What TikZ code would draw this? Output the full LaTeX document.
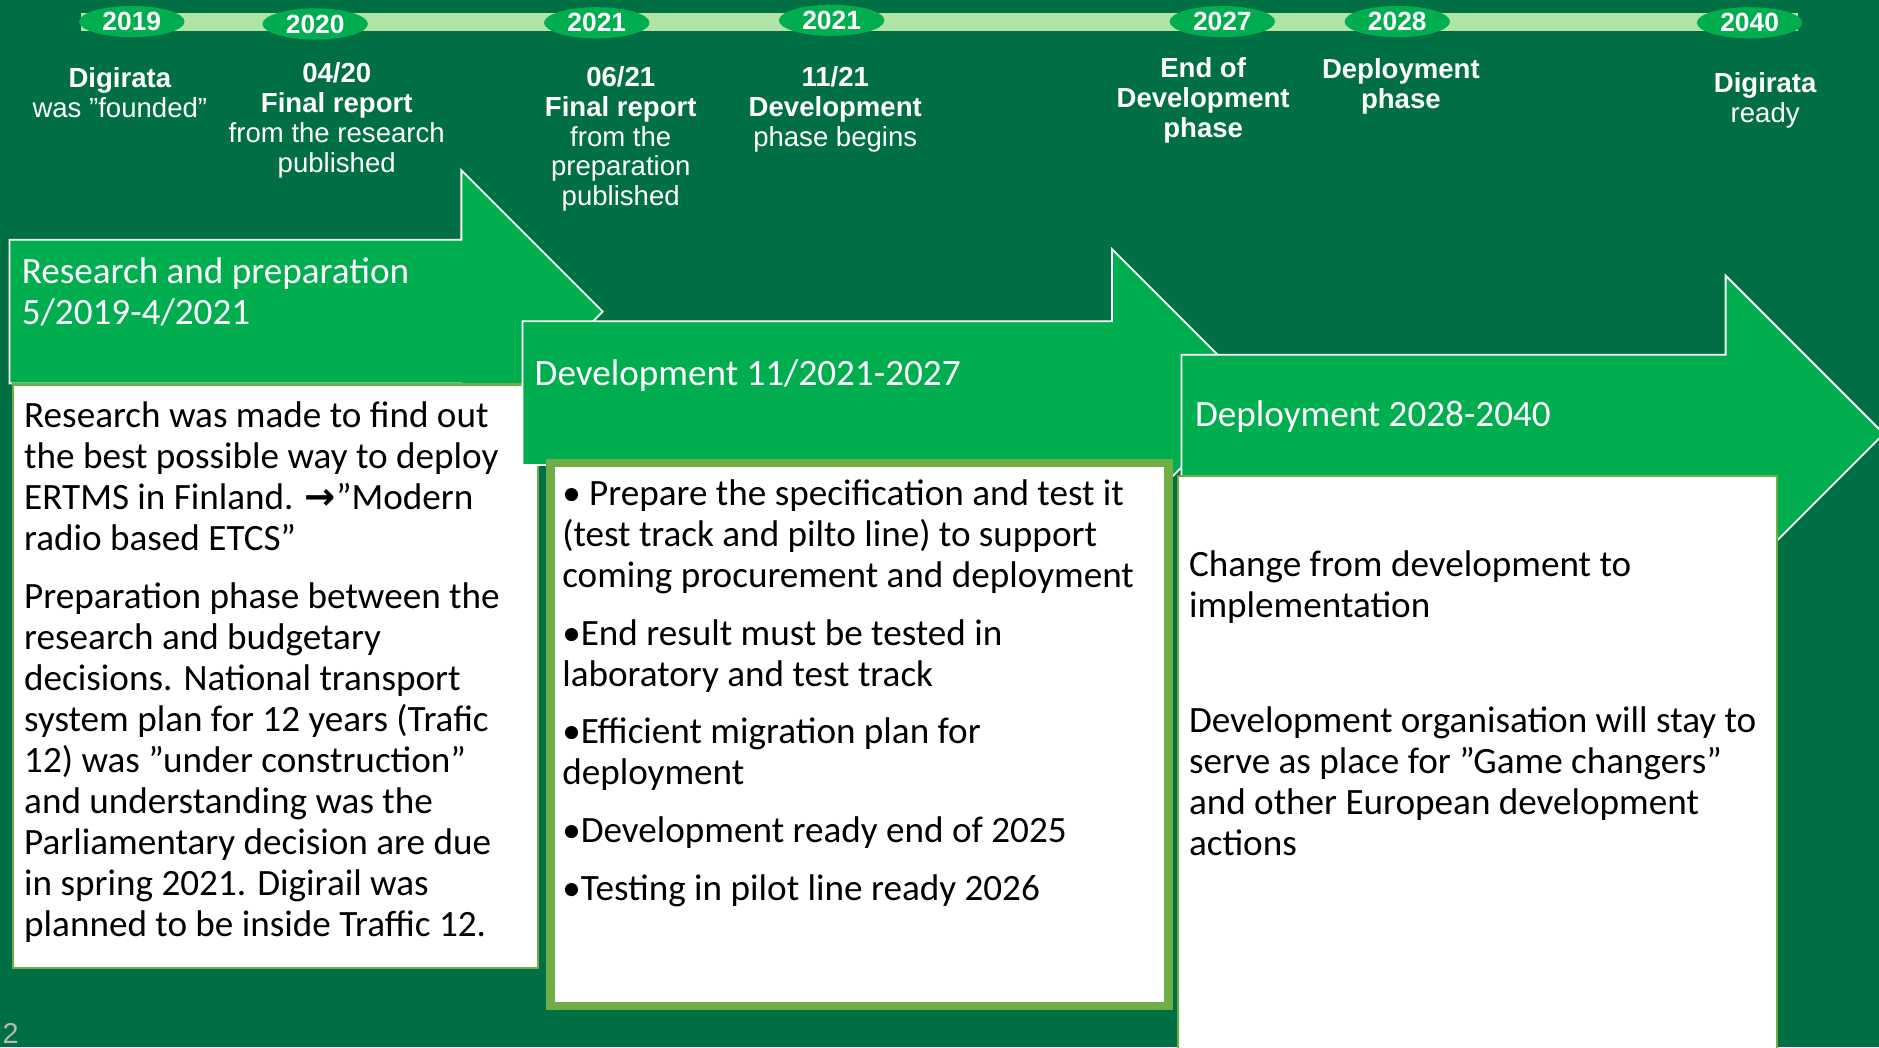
\documentclass[tikz,border=0pt]{standalone}
\usepackage{fontspec}
\usepackage{tikz}
\setmainfont{Carlito}
\newfontfamily\narrowfont{Liberation Sans}
\newfontfamily\dejavu{DejaVu Sans}
\usetikzlibrary{shapes.geometric,positioning}

\definecolor{bgdark}{RGB}{0,112,68}
\definecolor{arrowgreen}{RGB}{0,174,80}
\definecolor{barlight}{RGB}{176,228,166}
\definecolor{boxolive}{RGB}{112,173,71}
\definecolor{pagegray}{RGB}{185,185,185}

\tikzset{
  yearmark/.style={ellipse, fill=arrowgreen, minimum width=88pt, minimum height=26pt, inner sep=0pt,
    text=white, font=\narrowfont\bfseries\fontsize{22}{22}\selectfont},
  eventlabel/.style={anchor=north, align=center, inner sep=0pt, text=white,
    font=\narrowfont\fontsize{23}{25}\selectfont},
  phasearrow/.style={fill=arrowgreen, draw=white, line width=1.5pt, line join=miter},
  phasetitle/.style={anchor=north west, align=left, inner sep=0pt, text=white,
    font=\fontsize{31}{34}\selectfont},
  infobox/.style={fill=white, draw=boxolive, line width=2pt},
  infotext/.style={anchor=north west, align=left, inner sep=0pt, text=black,
    font=\fontsize{31}{34.2}\selectfont}
}

\begin{document}
\begin{tikzpicture}[x=1pt, y=-1pt]
    \useasboundingbox (0,0) rectangle (1568,874);
    \fill[bgdark] (0,0) rectangle (1568,874);

    % timeline
    \fill[barlight] (68,11) rectangle (1500,26);
    \node[yearmark] (y2019) at (110,18) {2019};
    \node[yearmark] (y2020) at (263,20) {2020};
    \node[yearmark] (y2021a) at (498,19) {2021};
    \node[yearmark] (y2021b) at (694,17) {2021};
    \node[yearmark] (y2027) at (1020,18) {2027};
    \node[yearmark] (y2028) at (1166,18) {2028};
    \node[yearmark] (y2040) at (1460,19) {2040};

    \node[eventlabel] (founded) at (100,56) {\bfseries Digirata\\was ”founded”};
    \node[eventlabel] (report1) at (281,52) {\bfseries 04/20\\\bfseries Final report\\from the research\\published};
    \node[eventlabel] (report2) at (518,55) {\bfseries 06/21\\\bfseries Final report\\from the\\preparation\\published};
    \node[eventlabel] (devstart) at (697,55) {\bfseries 11/21\\\bfseries Development\\phase begins};
    \node[eventlabel] (devend) at (1004,48) {\bfseries End of\\\bfseries Development\\\bfseries phase};
    \node[eventlabel] (deploy) at (1169,49) {\bfseries Deployment\\\bfseries phase};
    \node[eventlabel] (ready) at (1473,60) {\bfseries Digirata\\ready};

    % research and preparation
    \draw[phasearrow] (8,200) -- (385,200) -- (385,142) -- (503,260) -- (385,378) -- (385,320) -- (8,320) -- cycle;
    \node[phasetitle] (restitle) at (18,215) {Research and preparation\\5/2019-4/2021};
    \draw[infobox] (11,321) rectangle (449,808);
    \node[infotext] (restext) at (20,335) {Research was made to find out\\
      the best possible way to deploy\\
      ERTMS in Finland. {\dejavu\bfseries →}”Modern\\
      radio based ETCS”\\[14pt]
      Preparation phase between the\\
      research and budgetary\\
      decisions. National transport\\
      system plan for 12 years (Trafic\\
      12) was ”under construction”\\
      and understanding was the\\
      Parliamentary decision are due\\
      in spring 2021. Digirail was\\
      planned to be inside Traffic 12.};

    % development
    \draw[phasearrow] (436,268) -- (928,268) -- (928,208) -- (1048,328) -- (928,448) -- (928,388) -- (436,388) -- cycle;
    \node[phasetitle] (devtitle) at (446,300) {Development 11/2021-2027};
    \draw[infobox, line width=7pt] (459.5,386.5) rectangle (975,839.5);
    \node[infotext] (devtext) at (469,400) {• Prepare the specification and test it\\
      (test track and pilto line) to support\\
      coming procurement and deployment\\[14pt]
      •End result must be tested in\\
      laboratory and test track\\[14pt]
      •Efficient migration plan for\\
      deployment\\[14pt]
      •Development ready end of 2025\\[14pt]
      •Testing in pilot line ready 2026};

    % deployment
    \draw[phasearrow] (986,296) -- (1440,296) -- (1440,230) -- (1572,362) -- (1440,494) -- (1440,428) -- (986,428) -- cycle;
    \node[phasetitle] (deptitle) at (997,334) {Deployment 2028-2040};
    \draw[infobox] (983,397) rectangle (1483,880);
    \node[infotext] (deptext) at (992,459) {Change from development to\\
      implementation\\[62pt]
      Development organisation will stay to\\
      serve as place for ”Game changers”\\
      and other European development\\
      actions};

    \node[anchor=south west, text=pagegray, font=\narrowfont\fontsize{24}{24}\selectfont, inner sep=0pt] (pagenum) at (2,871) {2};
\end{tikzpicture}
\end{document}
